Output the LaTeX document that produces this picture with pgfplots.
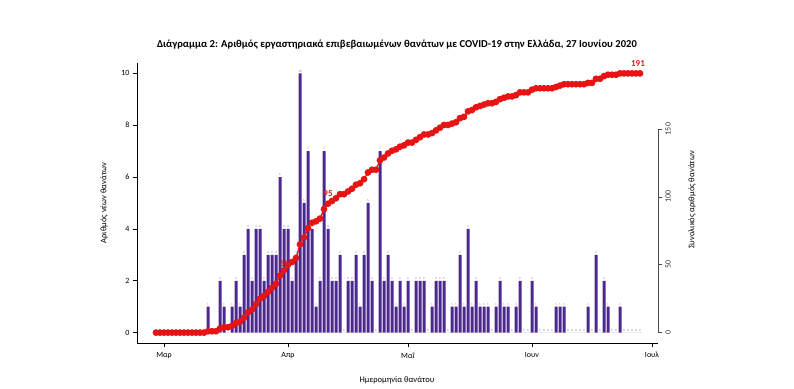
\documentclass[border=0pt]{standalone}
\usepackage{fontspec}
\setmainfont{Carlito}
\usepackage{pgfplots}
\pgfplotsset{compat=1.18}
\usepackage{pgfplotstable}
\definecolor{barpurple}{HTML}{4B2A8B}
\definecolor{cumred}{HTML}{E81414}
\pgfplotstableread{
d daily cum
-2 0 0
-1 0 0
0 0 0
1 0 0
2 0 0
3 0 0
4 0 0
5 0 0
6 0 0
7 0 0
8 0 0
9 0 0
10 0 0
11 1 1
12 0 1
13 0 1
14 2 3
15 1 4
16 0 4
17 1 5
18 2 7
19 1 8
20 3 11
21 4 15
22 2 17
23 4 21
24 4 25
25 2 27
26 3 30
27 3 33
28 3 36
29 6 42
30 4 46
31 4 50
32 2 52
33 3 55
34 10 65
35 5 70
36 7 77
37 4 81
38 1 82
39 2 84
40 7 91
41 4 95
42 2 97
43 2 99
44 3 102
45 0 102
46 2 104
47 2 106
48 3 109
49 1 110
50 3 113
51 5 118
52 2 120
53 0 120
54 7 127
55 2 129
56 3 132
57 2 134
58 1 135
59 2 137
60 1 138
61 2 140
62 0 140
63 2 142
64 2 144
65 2 146
66 0 146
67 1 147
68 2 149
69 2 151
70 2 153
71 0 153
72 1 154
73 1 155
74 3 158
75 1 159
76 4 163
77 1 164
78 2 166
79 1 167
80 1 168
81 1 169
82 0 169
83 1 170
84 2 172
85 1 173
86 1 174
87 0 174
88 1 175
89 2 177
90 0 177
91 0 177
92 2 179
93 1 180
94 0 180
95 0 180
96 0 180
97 0 180
98 1 181
99 1 182
100 1 183
101 0 183
102 0 183
103 0 183
104 0 183
105 0 183
106 1 184
107 0 184
108 3 187
109 0 187
110 2 189
111 1 190
112 0 190
113 0 190
114 1 191
115 0 191
116 0 191
117 0 191
118 0 191
119 0 191
}\data
\begin{document}
\begin{tikzpicture}
\useasboundingbox (0,0) rectangle (794pt,388pt);
\begin{axis}[
  at={(137pt,45pt)}, anchor=south west,
  scale only axis, width=521pt, height=280pt,
  xmin=-6.75, xmax=123.5, ymin=-0.4, ymax=10.4,
  axis x line*=bottom, axis y line*=left,
  axis line style={-, black, line width=0.6pt},
  xtick={0,31,61,92,122}, xticklabels={Μαρ,Απρ,Μαΐ,Ιουν,Ιουλ},
  ytick={0,2,4,6,8,10},
  tick align=outside, major tick length=4pt,
  tick style={black, line width=0.6pt},
  ticklabel style={font=\fontsize{8}{9}\selectfont},
  xticklabel shift=2pt,
  /pgf/number format/assume math mode=true,
  clip=false,
]
\addplot[ybar, bar width=0.75, fill=barpurple, draw=none,
  nodes near coords,
  nodes near coords style={font=\fontsize{3.2}{4}\selectfont, text=gray, inner sep=1pt}]
  table[x=d, y=daily] {\data};
\end{axis}
\begin{axis}[
  at={(137pt,45pt)}, anchor=south west,
  scale only axis, width=521pt, height=280pt,
  xmin=-6.75, xmax=123.5, ymin=-7.64, ymax=198.64,
  axis x line=none, axis y line*=right,
  y axis line style={draw=none},
  ytick={0,50,100,150},
  tick align=outside, major tick length=4pt,
  ytick style={gray!60!black, line width=0.6pt},
  yticklabel style={rotate=90, anchor=north, font=\fontsize{8}{9}\selectfont, text=black!80},
  /pgf/number format/assume math mode=true,
  clip=false,
]
\draw[gray!60!black, line width=0.6pt] (axis cs:123.5,0) -- (axis cs:123.5,150);
\addplot[cumred, line width=1.3pt, mark=*, mark size=2.7pt, mark options={fill=cumred, draw=cumred}]
  table[x=d, y=cum] {\data};
\node[text=cumred, font=\bfseries\fontsize{9}{10}\selectfont, anchor=south, inner sep=1pt] at (axis cs:118.5,195) {191};
\node[text=cumred, font=\bfseries\fontsize{9}{10}\selectfont, anchor=south, inner sep=1pt] at (axis cs:41,99) {95};
\node[text=cumred, font=\bfseries\fontsize{8.5}{10}\selectfont, anchor=east, inner sep=1pt] at (axis cs:31.5,51) {50};
\end{axis}
\node[font=\bfseries\fontsize{10.6}{12}\selectfont] at (397pt,343pt) {Διάγραμμα 2: Αριθμός εργαστηριακά επιβεβαιωμένων θανάτων με COVID-19 στην Ελλάδα, 27 Ιουνίου 2020};
\node[font=\fontsize{8.5}{10}\selectfont] at (397pt,8pt) {Ημερομηνία θανάτου};
\node[font=\fontsize{8.5}{10}\selectfont, rotate=90] at (104pt,185pt) {Αριθμός νέων θανάτων};
\node[font=\fontsize{8.5}{10}\selectfont, rotate=90] at (692pt,188pt) {Συνολικός αριθμός θανάτων};
\end{tikzpicture}
\end{document}
